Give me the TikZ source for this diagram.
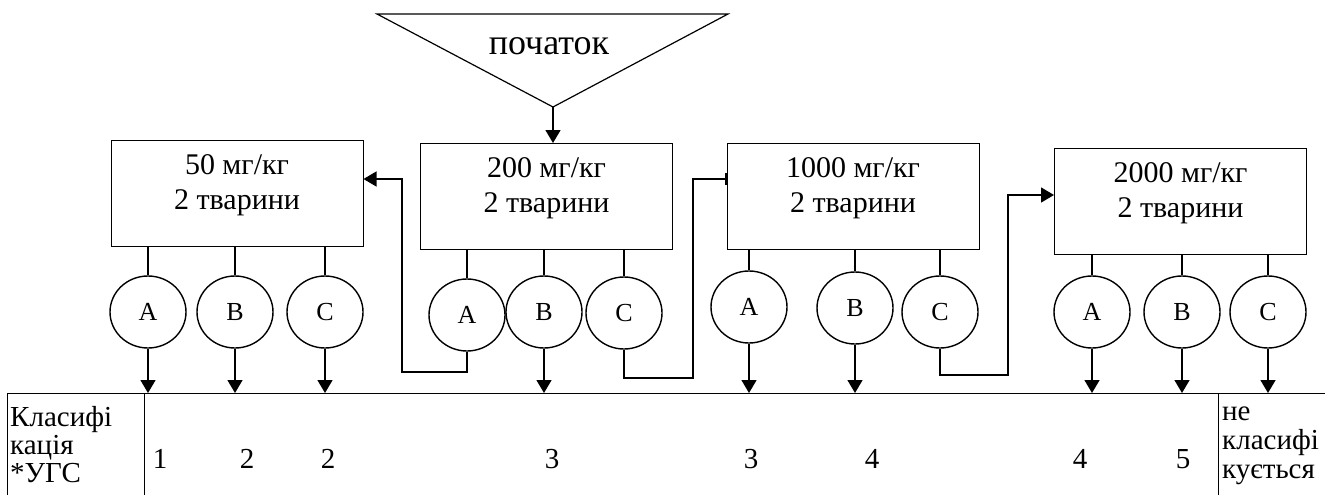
\documentclass[tikz,border=0pt]{standalone}
\usepackage{fontspec}
\setmainfont{Liberation Serif}
\usetikzlibrary{positioning}
\usetikzlibrary{shapes.geometric}
\usetikzlibrary{arrows.meta}

\begin{document}
\begin{tikzpicture}[x=1pt,y=-1pt,
  dose/.style={draw,line width=1pt,minimum width=252pt,minimum height=106pt,inner sep=0pt},
  dosetext/.style={align=center,inner sep=0pt,font=\fontsize{30}{35}\selectfont},
  test/.style={draw,ellipse,line width=1.4pt,minimum width=76pt,minimum height=72pt,inner sep=0pt,font=\fontsize{26}{28}\selectfont},
  wire/.style={line width=1.4pt},
  flow/.style={line width=1.4pt,-{Triangle[length=13pt,width=15pt]}},
  score/.style={inner sep=0pt,font=\fontsize{29}{32}\selectfont},
  cell/.style={align=left,anchor=north west,inner sep=0pt}]
 \useasboundingbox (0,0) rectangle (1325,495);
 % start
 \draw[line width=1.2pt] (377,14) -- (728,14) -- (553,107) -- cycle;
 \coordinate (apex) at (553,107);
 \node[inner sep=0pt,font=\fontsize{36}{40}\selectfont] (start) at (549,46) {початок};
 % doses
 \node[dose] (b50) at (237,193.5) {};
 \node[dose] (b200) at (546.5,196.5) {};
 \node[dose] (b1000) at (853,196) {};
 \node[dose] (b2000) at (1180.5,201) {};
 \node[dosetext] (t50) at ([yshift=8pt]b50.center) {50 мг/кг\\2 тварини};
 \node[dosetext] (t200) at ([yshift=8pt]b200.center) {200 мг/кг\\2 тварини};
 \node[dosetext] (t1000) at ([yshift=8pt]b1000.center) {1000 мг/кг\\2 тварини};
 \node[dosetext] (t2000) at ([yshift=8pt]b2000.center) {2000 мг/кг\\2 тварини};
 \draw[flow] (apex) -- (apex |- b200.north);
 % animals
 \node[test] (a50) at (148,312) {A};
 \node[test] (bb50) at (235,312) {B};
 \node[test] (c50) at (325,312) {C};
 \node[test] (a200) at (467,315) {A};
 \node[test] (bb200) at (544,312) {B};
 \node[test] (c200) at (624,313) {C};
 \node[test] (a1000) at (749,307) {A};
 \node[test] (bb1000) at (855,308) {B};
 \node[test] (c1000) at (940,312) {C};
 \node[test] (a2000) at (1092,312) {A};
 \node[test] (bb2000) at (1182,312) {B};
 \node[test] (c2000) at (1268,312) {C};
 \foreach \d in {50,200,1000,2000}{
   \foreach \t in {a,bb,c}{
     \draw[wire] (\t\d.north |- b\d.south) -- (\t\d.north);
   }
 }
 % table
 \coordinate (tl) at (7,393);
 \draw[line width=1pt] (1325,393) -- (tl) -- (7,497);
 \draw[line width=1pt] (144,393) -- (144,497);
 \draw[line width=1pt] (1218,393) -- (1218,497);
 \node[cell,font=\fontsize{29}{28}\selectfont] (cls) at (10,406) {Класифі\\кація\\*УГС};
 \node[cell,font=\fontsize{29}{29}\selectfont] (none) at (1222,406.5) {не\\класифі\\кується};
 % results
 \foreach \t/\x/\s in {a50/160/1,bb50/247/2,c50/328/2,bb200/552/3,a1000/751/3,bb1000/872/4,a2000/1080/4,bb2000/1183/5}{
   \node[score] (s\t) at (\x,459) {\s};
 }
 \foreach \t in {a50,bb50,c50,bb200,a1000,bb1000,a2000,bb2000,c2000}{
   \draw[flow] (\t.south) -- (\t.south |- tl);
 }
 % next dose
 \draw[flow] (a200.south) |- (402,372) |- (b50.east |- 0,179);
 \draw[line width=1.4pt,-{Bar[width=12pt]}] (c200.south) |- (693,378) |- (b1000.west |- 0,179);
 \draw[flow] (c1000.south) |- (1008,375) |- (b2000.west |- 0,195);
\end{tikzpicture}
\end{document}
